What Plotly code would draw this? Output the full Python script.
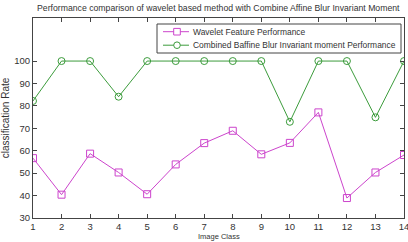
import plotly.graph_objects as go

image_class = list(range(1, 15))
wavelet = [56.7, 40.4, 58.7, 50.3, 40.6, 53.9, 63.4, 68.9, 58.4, 63.5, 77.1, 38.9, 50.3, 58.1]
baffine = [82.2, 100, 100, 84.1, 100, 100, 100, 100, 100, 72.9, 100, 100, 74.9, 100]
y_ticks = [30, 40, 50, 60, 70, 80, 90, 100]
series_names = ["Wavelet Feature Performance", "Combined Baffine Blur Invariant moment Performance"]
series_colors = ["#cc44cc", "#3c9c3c"]

FONT = "Liberation Sans, Arial"
T, B = 18, 24
PH = 242 - T - B  # plot height in px
W = 371.0

fig = go.Figure()
fig.add_trace(go.Scatter(
    x=image_class, y=wavelet, mode="lines+markers", name=series_names[0],
    line=dict(color=series_colors[0], width=1),
    marker=dict(symbol="square-open", size=7, color=series_colors[0], line=dict(width=1)),
))
fig.add_trace(go.Scatter(
    x=image_class, y=baffine, mode="lines+markers", name=series_names[1],
    line=dict(color=series_colors[1], width=1),
    marker=dict(symbol="circle-open", size=7, color=series_colors[1], line=dict(width=1)),
))

axis_common = dict(
    showline=True, linecolor="#444", linewidth=1, mirror="ticks",
    ticks="inside", ticklen=4, tickcolor="#444", showgrid=False, zeroline=False,
    tickfont=dict(family=FONT, size=9.5, color="#333"),
    automargin=False, ticklabeloverflow="allow",
)
fig.update_xaxes(range=[1, 14], tickvals=image_class, **axis_common)
fig.update_yaxes(range=[30, 119.2], tickvals=y_ticks,
                 title=dict(text="classification Rate", font=dict(family=FONT, size=10, color="#333"), standoff=6),
                 **axis_common)

def py(pix):
    """pixel row -> paper y"""
    return (242 - B - pix) / PH

def px(pix):
    return (pix - 33) / W

# Legend box (drawn like the MATLAB legend)
shapes = [dict(type="rect", xref="paper", yref="paper", x0=px(157), x1=px(401), y0=py(53), y1=py(24),
               line=dict(color="#444", width=1), fillcolor="white", layer="above")]
annotations = []
rows_y = [py(31.7), py(45.2)]
lx0, lx1, mx, tx = px(163), px(189), px(177), px(191)
hx, hy = 3.3 / W, 3.3 / PH
for i, ry in enumerate(rows_y):
    c = series_colors[i]
    shapes.append(dict(type="line", xref="paper", yref="paper", x0=lx0, x1=lx1, y0=ry, y1=ry,
                       line=dict(color=c, width=1), layer="above"))
    shapes.append(dict(type="rect" if i == 0 else "circle", xref="paper", yref="paper",
                       x0=mx - hx, x1=mx + hx, y0=ry - hy, y1=ry + hy,
                       line=dict(color=c, width=1), fillcolor="white", layer="above"))
    annotations.append(dict(text=series_names[i], xref="paper", yref="paper", x=tx, y=ry,
                            xanchor="left", yanchor="middle", showarrow=False,
                            font=dict(family=FONT, size=8.45, color="#333")))

# x-axis title, at the bottom edge of the figure
annotations.append(dict(text="Image Class", xref="paper", yref="paper", x=0.5, y=py(242),
                        xanchor="center", yanchor="bottom", showarrow=False, borderpad=0,
                        font=dict(family=FONT, size=7.5, color="#333")))

fig.update_layout(
    width=408, height=242,
    margin=dict(l=33, r=4, t=T, b=B),
    paper_bgcolor="white", plot_bgcolor="white",
    title=dict(text="Performance comparison of wavelet based method with Combine Affine Blur Invariant Moment",
               font=dict(family=FONT, size=8.7, color="#333"),
               x=0.535, xanchor="center", y=0.967, yanchor="middle"),
    showlegend=False,
    shapes=shapes,
    annotations=annotations,
)

fig.write_html("out.html")
